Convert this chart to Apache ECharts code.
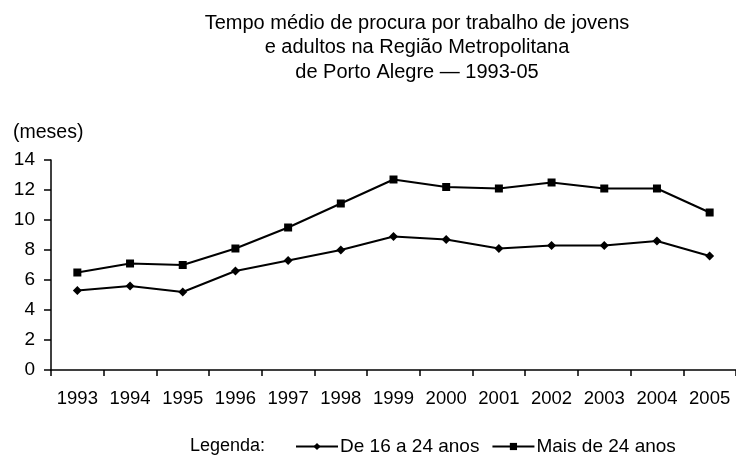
<!DOCTYPE html>
<html>
<head>
<meta charset="utf-8">
<script src="https://cdn.jsdelivr.net/npm/echarts@6/dist/echarts.min.js"></script>
<style>
html, body { margin: 0; padding: 0; background: #fff; }
#chart { width: 736px; height: 460px; }
</style>
</head>
<body>
<div id="chart"></div>
<script>
var anos = ['1993', '1994', '1995', '1996', '1997', '1998', '1999', '2000', '2001', '2002', '2003', '2004', '2005'];
var jovens = [5.3, 5.6, 5.2, 6.6, 7.3, 8.0, 8.9, 8.7, 8.1, 8.3, 8.3, 8.6, 7.6];
var adultos = [6.5, 7.1, 7.0, 8.1, 9.5, 11.1, 12.7, 12.2, 12.1, 12.5, 12.1, 12.1, 10.5];
var nomes = ['De 16 a 24 anos', 'Mais de 24 anos'];

var fonte = 'Liberation Sans, Arial, sans-serif';
var chart = echarts.init(document.getElementById('chart'));

chart.setOption({
    animation: false,
    textStyle: { fontFamily: fonte, color: '#000' },
    title: {
        text: 'Tempo médio de procura por trabalho de jovens\ne adultos na Região Metropolitana\nde Porto Alegre — 1993-05',
        left: 412,
        top: 6,
        textAlign: 'center',
        textStyle: { fontSize: 20, fontWeight: 'normal', color: '#000', lineHeight: 24.5, fontFamily: fonte }
    },
    graphic: [{
        type: 'text',
        left: 13,
        top: 123,
        style: { text: '(meses)', font: '19.5px ' + fonte, fill: '#000' }
    }, {
        type: 'text',
        left: 190,
        top: 437,
        style: { text: 'Legenda:', font: '18px ' + fonte, fill: '#000' }
    }],
    legend: {
        data: nomes,
        left: 295,
        top: 437,
        padding: 0,
        itemWidth: 42,
        itemHeight: 9,
        itemGap: 12,
        textStyle: { fontSize: 19, color: '#000', fontFamily: fonte, padding: [0, 0, 0, -3] }
    },
    grid: { left: 51, top: 160, width: 693, height: 210 },
    xAxis: {
        type: 'category',
        data: anos,
        boundaryGap: true,
        axisLine: { lineStyle: { color: '#000', width: 1.5 } },
        axisTick: { show: true, length: 6, lineStyle: { color: '#000', width: 1.5 } },
        axisLabel: { interval: 0, fontSize: 18.5, color: '#000', margin: 19, fontFamily: fonte }
    },
    yAxis: {
        type: 'value',
        min: 0,
        max: 14,
        interval: 2,
        splitLine: { show: false },
        axisLine: { show: true, lineStyle: { color: '#000', width: 1.5 } },
        axisTick: { show: true, length: 7, lineStyle: { color: '#000', width: 1.5 } },
        axisLabel: { fontSize: 19, color: '#000', margin: 16, fontFamily: fonte }
    },
    series: [{
        name: nomes[0],
        type: 'line',
        data: jovens,
        symbol: 'diamond',
        symbolSize: 9,
        itemStyle: { color: '#000' },
        lineStyle: { color: '#000', width: 2 }
    }, {
        name: nomes[1],
        type: 'line',
        data: adultos,
        symbol: 'rect',
        symbolSize: 8,
        itemStyle: { color: '#000' },
        lineStyle: { color: '#000', width: 2 }
    }]
});
</script>
</body>
</html>
